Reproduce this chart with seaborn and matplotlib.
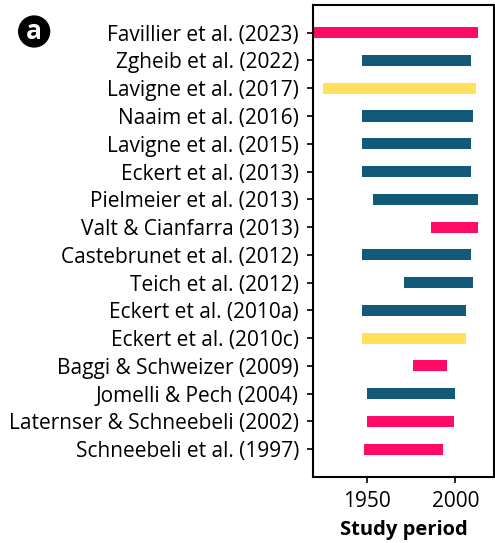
import pandas as pd
import matplotlib
matplotlib.use("Agg")
import matplotlib.pyplot as plt
import seaborn as sns

# study periods (years), top to bottom
studies = [
    "Favillier et al. (2023)", "Zgheib et al. (2022)", "Lavigne et al. (2017)",
    "Naaim et al. (2016)", "Lavigne et al. (2015)", "Eckert et al. (2013)",
    "Pielmeier et al. (2013)", "Valt & Cianfarra (2013)", "Castebrunet et al. (2012)",
    "Teich et al. (2012)", "Eckert et al. (2010a)", "Eckert et al. (2010c)",
    "Baggi & Schweizer (2009)", "Jomelli & Pech (2004)",
    "Laternser & Schneebeli (2002)", "Schneebeli et al. (1997)",
]
start_year = [1915, 1947, 1925, 1947, 1947, 1947, 1953, 1986, 1947, 1971,
              1947, 1947, 1976, 1950, 1950, 1948]
end_year = [2013, 2009, 2012, 2010, 2009, 2009, 2013, 2013, 2009, 2010,
            2006, 2006, 1995, 2000, 1999, 1993]
group = ["pink", "teal", "yellow", "teal", "teal", "teal", "teal", "pink", "teal",
         "teal", "teal", "yellow", "pink", "teal", "pink", "pink"]

palette = {"pink": "#ff0a64", "teal": "#135a78", "yellow": "#ffe15a"}

df = pd.DataFrame({"study": studies, "start": start_year, "end": end_year, "group": group})
df["length"] = df["end"] - df["start"]

sns.set_style("ticks")
plt.rcParams["font.family"] = ["Open Sans", "DejaVu Sans"]
plt.rcParams["text.color"] = "black"
plt.rcParams["axes.labelcolor"] = "black"
plt.rcParams["xtick.color"] = "black"
plt.rcParams["ytick.color"] = "black"

fig = plt.figure(figsize=(4.95, 5.43), dpi=100)
ax = fig.add_axes([0.632, 0.1215, 0.366, 0.8695])

sns.barplot(data=df, y="study", x="length", left=df["start"], order=studies,
            orient="h", width=0.4, errorbar=None, color="#135a78", ax=ax)
for patch, g in zip(ax.patches, df["group"]):
    patch.set_facecolor(palette[g])
    patch.set_edgecolor("none")

ax.set_xlim(1919, 2022)
ax.set_ylim(len(studies), -1)
ax.set_xticks([1950, 2000])
ax.set_ylabel("")
ax.set_xlabel("Study period", fontsize=14.5, fontweight="bold", labelpad=6)
ax.tick_params(axis="both", labelsize=15, width=1.2, length=4)
ax.tick_params(axis="x", pad=6)
ax.tick_params(axis="y", pad=6)
for sp in ax.spines.values():
    sp.set_linewidth(1.5)
    sp.set_color("black")

fig.text(0.069, 0.942, "a", color="white", fontsize=19, fontweight="bold",
         ha="center", va="center",
         bbox=dict(boxstyle="circle,pad=0.1", facecolor="black", edgecolor="none"))

fig.savefig("out.png", dpi=100)
